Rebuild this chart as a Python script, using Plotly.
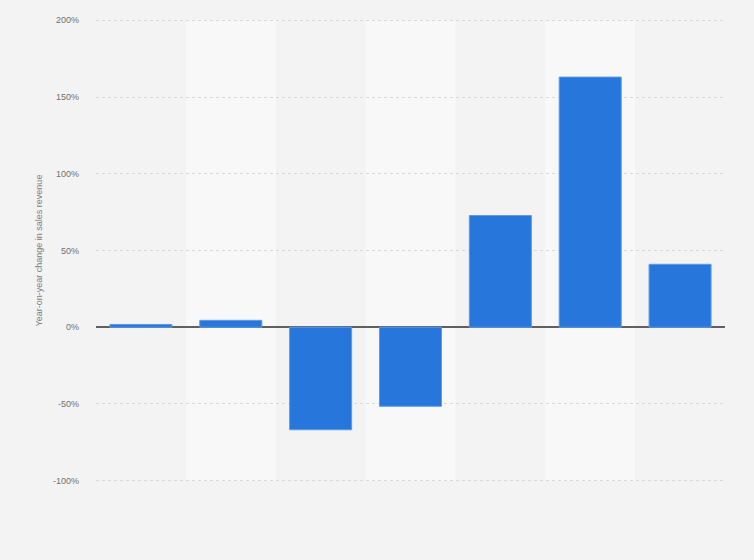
import plotly.graph_objects as go

categories = ["2015", "2016", "2017", "2018", "2019", "2020", "2021"]
values = [1.8, 4.5, -66.8, -51.5, 72.8, 163.0, 41.0]
tick_vals = [-100, -50, 0, 50, 100, 150, 200]
tick_text = ["-100%", "-50%", "0%", "50%", "100%", "150%", "200%"]

fig = go.Figure()
fig.add_trace(go.Bar(
    x=categories, y=values,
    marker=dict(color="#2776dc", line=dict(color="#5c9ae6", width=1)),
    hoverinfo="y",
))

shapes = []
for i in range(len(categories)):
    if i % 2 == 1:
        shapes.append(dict(type="rect", xref="x", yref="y",
                           x0=i - 0.5, x1=i + 0.5, y0=tick_vals[0], y1=tick_vals[-1],
                           fillcolor="#f8f8f8", line=dict(width=0), layer="below"))

fig.update_layout(
    width=754, height=560,
    paper_bgcolor="#f3f3f3", plot_bgcolor="#f3f3f3",
    margin=dict(l=96, r=29, t=18, b=77),
    bargap=0.31,
    shapes=shapes,
    showlegend=False,
    font=dict(family="Arial, Liberation Sans, sans-serif", color="#666666", size=9),
    xaxis=dict(showticklabels=False, showgrid=False, zeroline=False, showline=False,
               range=[-0.5, len(categories) - 0.5]),
    yaxis=dict(range=[-101.5, 201.5], tickvals=tick_vals, ticktext=tick_text,
               showgrid=True, gridcolor="#d9d9d9", griddash="dot", gridwidth=1,
               zeroline=True, zerolinecolor="#606060", zerolinewidth=1.5,
               showline=False, ticks="", ticklabelstandoff=16,
               tickfont=dict(size=9, color="#707070"),
               title=dict(text="Year-on-year change in sales revenue",
                          font=dict(size=9, color="#808080"), standoff=8)),
)

fig.write_html("out.html",
               config={"displayModeBar": False},
               post_script="document.body.style.margin='0';document.body.style.background='#f3f3f3';")
